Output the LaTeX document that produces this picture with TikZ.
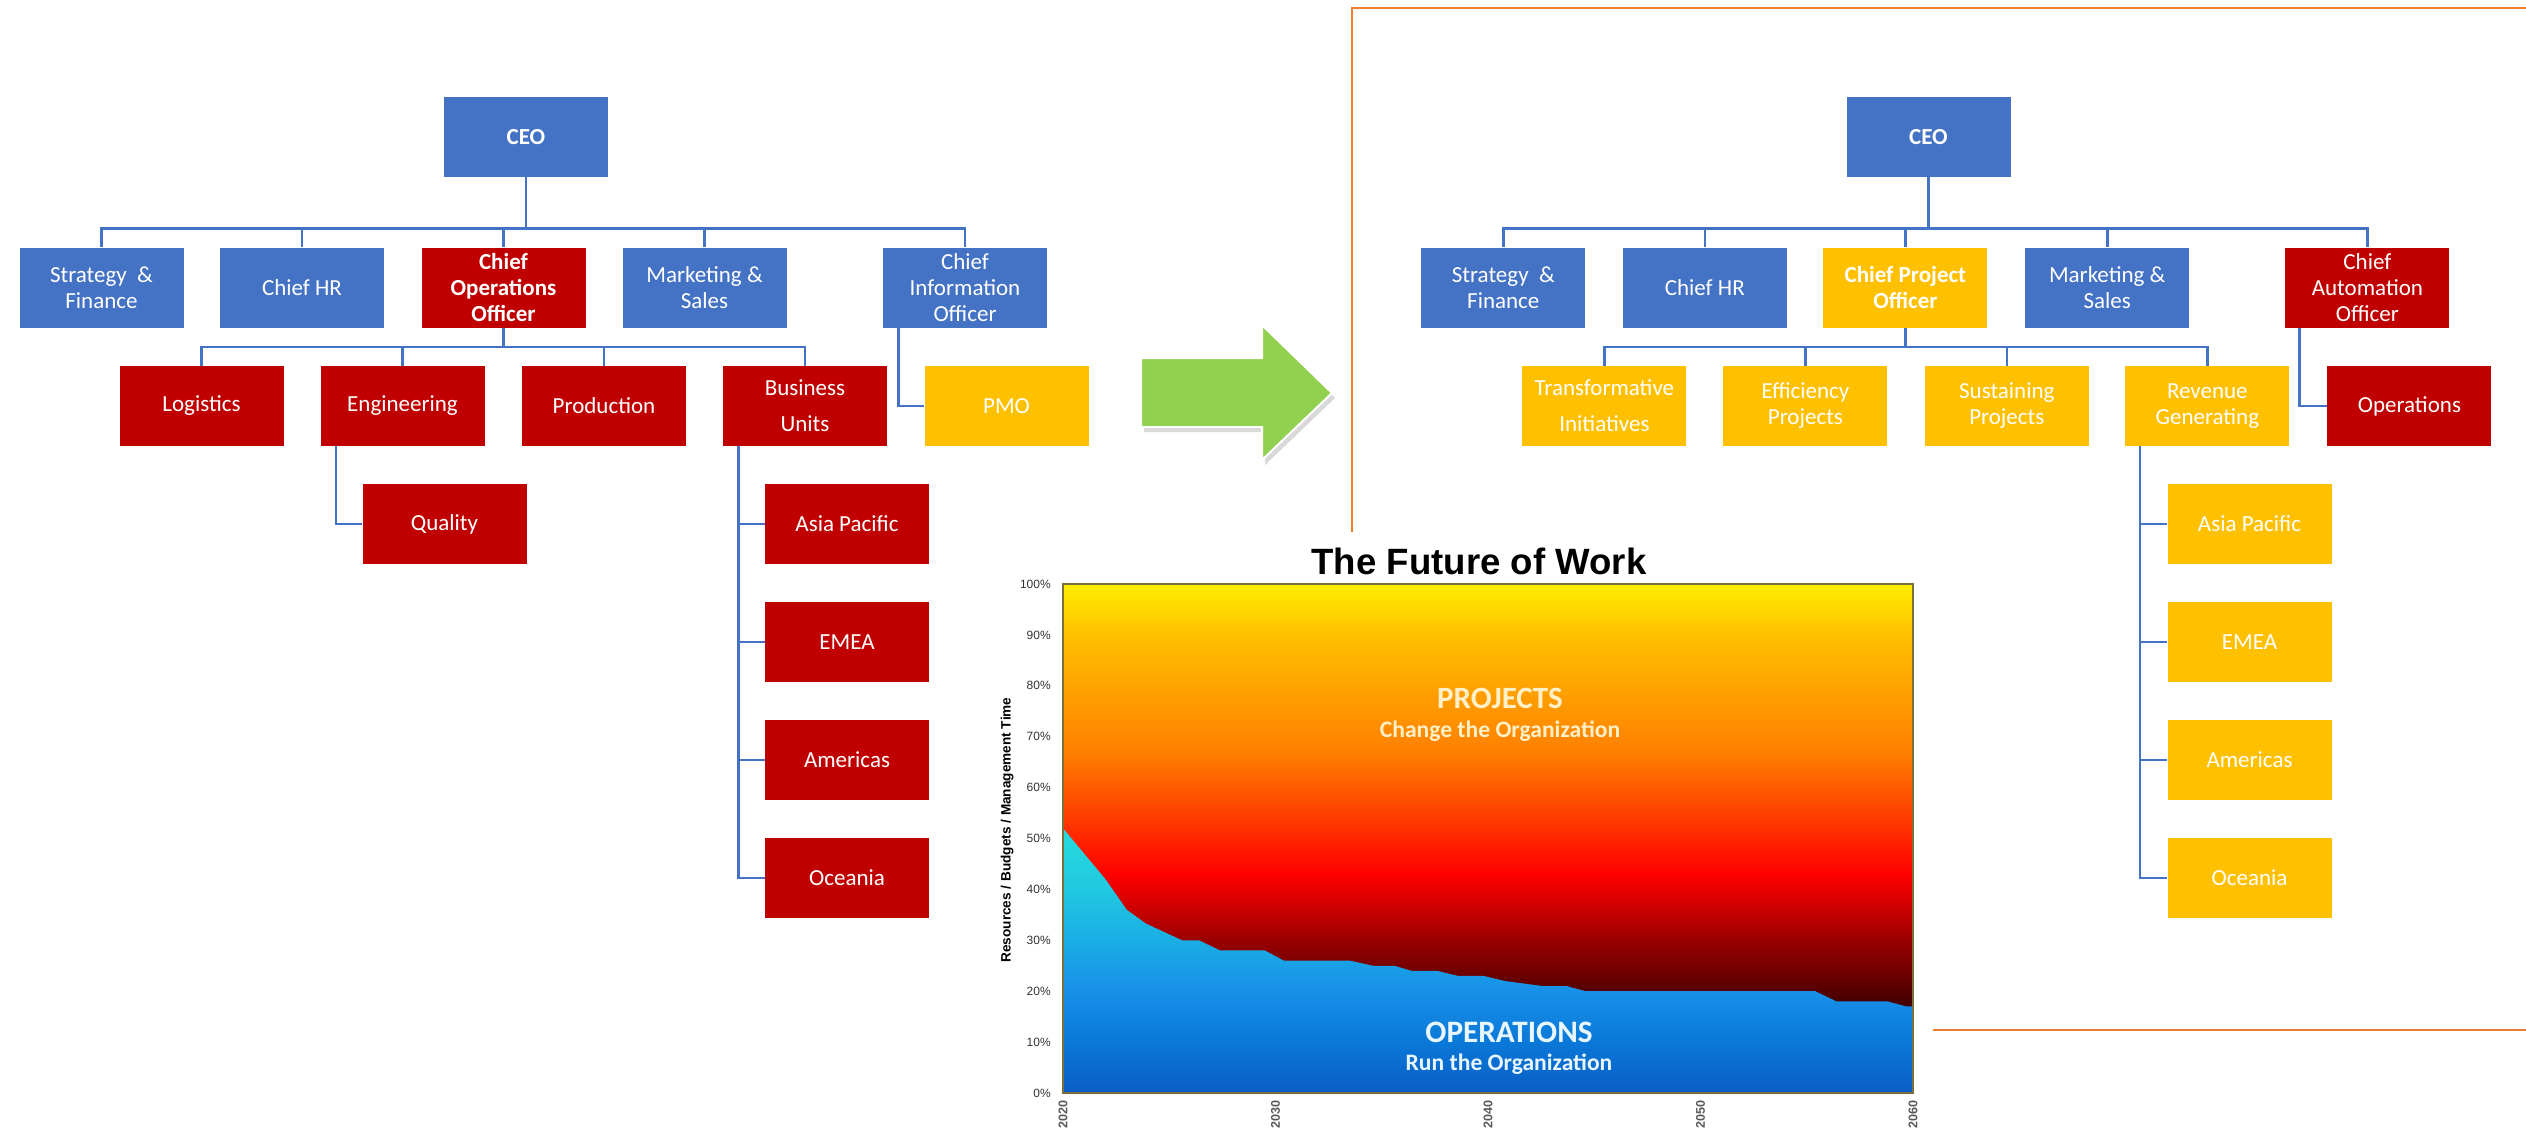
\documentclass[tikz,border=0pt]{standalone}
\usepackage{fontspec}
\setmainfont{Carlito}
\newfontfamily\chartfont{Liberation Sans}
\usetikzlibrary{shadows}

\definecolor{orgblue}{HTML}{4472C4}
\definecolor{orgred}{HTML}{C00000}
\definecolor{orggold}{HTML}{FFC000}
\definecolor{linkblue}{HTML}{4472C4}
\definecolor{frameorange}{HTML}{ED7D31}
\definecolor{arrowgreen}{HTML}{92D050}
\definecolor{plotedge}{HTML}{7A6E3C}
\definecolor{projtext}{HTML}{FFF0C8}
\definecolor{opstext}{HTML}{E8F6FF}

\definecolor{pj0}{HTML}{300000}
\definecolor{pj1}{HTML}{400000}
\definecolor{pj2}{HTML}{9A0000}
\definecolor{pj3}{HTML}{FF0000}
\definecolor{pj4}{HTML}{FF3000}
\definecolor{pj5}{HTML}{FF8000}
\definecolor{pj6}{HTML}{FFA000}
\definecolor{pj7}{HTML}{FFC000}
\definecolor{pj8}{HTML}{FFEE00}
\pgfdeclareverticalshading{projshade}{100bp}{color(0bp)=(pj0); color(25bp)=(pj0);
  color(33.5bp)=(pj1); color(40bp)=(pj2); color(46.5bp)=(pj3); color(51bp)=(pj4);
  color(58.5bp)=(pj5); color(64.5bp)=(pj6); color(70bp)=(pj7); color(75bp)=(pj8);
  color(100bp)=(pj8)}

\definecolor{op0}{HTML}{0A5EC4}
\definecolor{op1}{HTML}{0A78D8}
\definecolor{op2}{HTML}{1890E8}
\definecolor{op3}{HTML}{1AAEE4}
\definecolor{op4}{HTML}{20C8E0}
\definecolor{op5}{HTML}{26DCDC}
\pgfdeclareverticalshading{opsshade}{100bp}{color(0bp)=(op0); color(25bp)=(op0);
  color(34.6bp)=(op1); color(44.2bp)=(op2); color(53.8bp)=(op3); color(63.5bp)=(op4);
  color(75bp)=(op5); color(100bp)=(op5)}

\newcommand\orgsize{\fontsize{11.5}{13}\selectfont}

\tikzset{
  orgbox/.style={rectangle, minimum width=82pt, minimum height=40pt, inner sep=0pt,
    align=center, text=white, font=\orgsize},
  bluebox/.style={orgbox, fill=orgblue},
  redbox/.style={orgbox, fill=orgred},
  goldbox/.style={orgbox, fill=orggold},
  strong/.style={font=\orgsize\bfseries},
  link/.style={draw=linkblue, line width=1.3pt},
  ticklabel/.style={font=\chartfont\fontsize{6}{7}\selectfont, text=black!80, anchor=east, inner sep=0pt},
  yearlabel/.style={font=\chartfont\bfseries\fontsize{6.3}{7}\selectfont, text=black!65, rotate=90, inner sep=0pt},
}

\begin{document}
\begin{tikzpicture}[x=0.5pt, y=-0.5pt]
\useasboundingbox (0,0) rectangle (2526,1131);

\node[bluebox, strong] (ceoL) at (526,137) {CEO};
\node[bluebox] (stratL) at (101.5,287.5) {Strategy \ \&\\Finance};
\node[bluebox] (hrL) at (302,287.5) {Chief HR};
\node[redbox, strong] (cooL) at (503.5,287.5) {Chief\\Operations\\Officer};
\node[bluebox] (mktL) at (704.5,287.5) {Marketing \&\\Sales};
\node[bluebox] (cioL) at (965,287.5) {Chief\\Information\\Officer};

\node[redbox] (logL) at (201.5,406) {Logistics};
\node[redbox] (engL) at (402.5,406) {Engineering};
\node[redbox] (prodL) at (604,406) {Production};
\node[redbox] (buL) at (805,406) {Business\\[5pt]Units};
\node[goldbox] (pmoL) at (1006.5,406) {PMO};
\node[redbox] (qualL) at (444.5,524) {Quality};

\node[redbox] (apL) at (847,524) {Asia Pacific};
\node[redbox] (emeaL) at (847,642) {EMEA};
\node[redbox] (amL) at (847,760) {Americas};
\node[redbox] (ocL) at (847,878) {Oceania};

\foreach \n in {stratL,hrL,cooL,mktL,cioL}
  \draw[link] (ceoL.south) -- ++(0,51) -| (\n.north);
\foreach \n in {logL,engL,prodL,buL}
  \draw[link] (cooL.south) -- ++(0,19) -| (\n.north);
\draw[link] (cioL.south west) ++(16,0) |- (pmoL.west);
\draw[link] (engL.south west) ++(16,0) |- (qualL.west);
\foreach \n in {apL,emeaL,amL,ocL}
  \draw[link] (buL.south west) ++(16,0) |- (\n.west);

\draw[draw=white, line width=1pt, fill=arrowgreen,
  drop shadow={shadow xshift=1.5pt, shadow yshift=-2.5pt, opacity=0.3}]
  (1141,358) -- (1262,358) -- (1262,325) -- (1332,393) -- (1262,460)
  -- (1262,427) -- (1141,427) -- cycle;

\draw[frameorange, line width=1.3pt] (1352,532) -- (1352,8) -- (2526,8);
\draw[frameorange, line width=1.3pt] (1933,1030) -- (2526,1030);

\node[bluebox, strong] (ceoR) at (1928.5,137) {CEO};
\node[bluebox] (stratR) at (1503.3,287.5) {Strategy \ \&\\Finance};
\node[bluebox] (hrR) at (1704.8,287.5) {Chief HR};
\node[goldbox, strong] (cpoR) at (1905.4,287.5) {Chief Project\\Officer};
\node[bluebox] (mktR) at (2107.2,287.5) {Marketing \&\\Sales};
\node[redbox] (caoR) at (2367.4,287.5) {Chief\\Automation\\Officer};

\node[goldbox] (transR) at (1604.4,406) {Transformative\\[5pt]Initiatives};
\node[goldbox] (effR) at (1805.4,406) {Efficiency\\Projects};
\node[goldbox] (sustR) at (2006.8,406) {Sustaining\\Projects};
\node[goldbox] (revR) at (2207.3,406) {Revenue\\Generating};
\node[redbox] (opsR) at (2409.4,406) {Operations};

\node[goldbox] (apR) at (2249.5,524) {Asia Pacific};
\node[goldbox] (emeaR) at (2249.5,642) {EMEA};
\node[goldbox] (amR) at (2249.5,760) {Americas};
\node[goldbox] (ocR) at (2249.5,878) {Oceania};

\foreach \n in {stratR,hrR,cpoR,mktR,caoR}
  \draw[link] (ceoR.south) -- ++(0,51) -| (\n.north);
\foreach \n in {transR,effR,sustR,revR}
  \draw[link] (cpoR.south) -- ++(0,19) -| (\n.north);
\draw[link] (caoR.south west) ++(14.5,0) |- (opsR.west);
\foreach \n in {apR,emeaR,amR,ocR}
  \draw[link] (revR.south west) ++(15,0) |- (\n.west);

\node[font=\chartfont\bfseries\fontsize{18.3}{22}\selectfont] (title) at (1479,561) {The Future of Work};
\begin{scope}[shift={(1063,1093)}, x=10.625pt, y=2.545pt]
  \shade[shading=projshade] (0,0) rectangle (40,100);
  \shade[shading=opsshade] (0,52) -- (2,42) -- (3,36) -- (3.9,33.3) -- (5.6,30) -- (6.4,30)
    -- (7.4,28) -- (9.5,28) -- (10.4,26) -- (13.5,26) -- (14.6,25) -- (15.6,25) -- (16.4,24)
    -- (17.6,24) -- (18.6,23) -- (19.8,23) -- (20.8,22) -- (22.6,21) -- (23.7,21) -- (24.6,20)
    -- (35.4,20) -- (36.4,18) -- (38.8,18) -- (39.7,17) -- (40,17) -- (40,0) -- (0,0) -- cycle;
  \draw[plotedge, line width=0.7pt] (0,0) rectangle (40,100);
  \foreach \p in {0,10,...,100}
    \node[ticklabel] (tick\p) at (-0.56,\p) {\p\%};
  \foreach \t/\yr in {0/2020,10/2030,20/2040,30/2050,40/2060}
    \node[yearlabel] (year\yr) at (\t,-4.3) {\yr};
\end{scope}
\node[rotate=90, font=\chartfont\bfseries\fontsize{6.8}{8}\selectfont] (ytitle) at (1007,830)
  {Resources / Budgets / Management Time};
\node[font=\bfseries\fontsize{15.5}{18}\selectfont, text=projtext] (projT) at (1500,698) {PROJECTS};
\node[font=\bfseries\fontsize{11.8}{14}\selectfont, text=projtext] (projS) at (1500,731) {Change the Organization};
\node[font=\bfseries\fontsize{15.6}{18}\selectfont, text=opstext] (opsT) at (1509,1032) {OPERATIONS};
\node[font=\bfseries\fontsize{11.8}{14}\selectfont, text=opstext] (opsS) at (1509,1064) {Run the Organization};
\end{tikzpicture}
\end{document}
